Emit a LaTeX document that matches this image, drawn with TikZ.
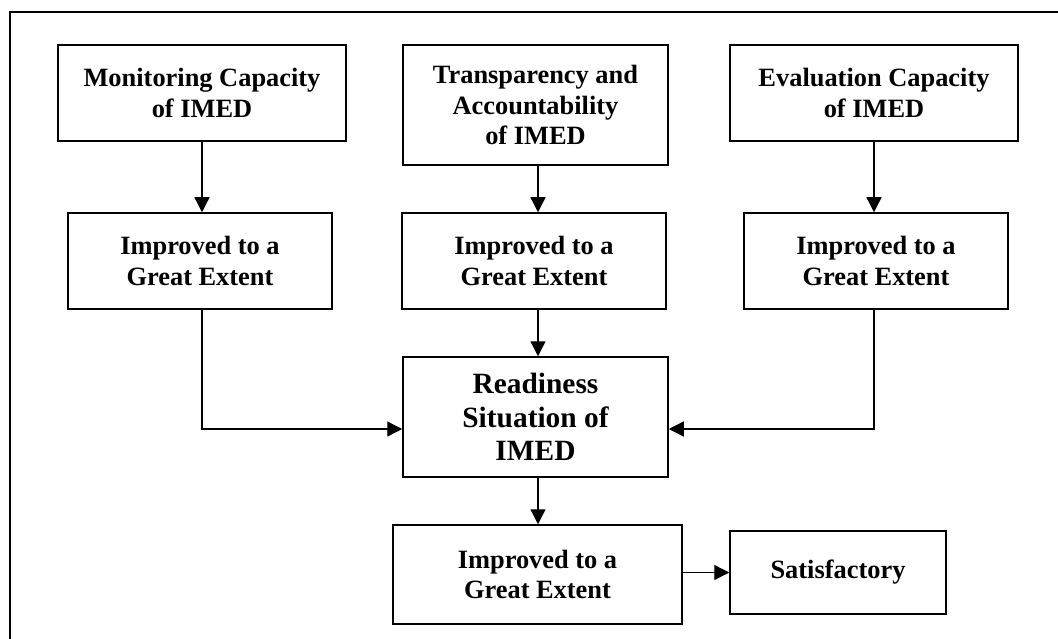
\documentclass[tikz,border=0pt]{standalone}
\usepackage{fontspec}
\setmainfont{Liberation Serif}
\usetikzlibrary{arrows.meta}
\begin{document}
\begin{tikzpicture}[x=1pt,y=-1pt,
  box/.style={draw, line width=1.5pt, rectangle, align=center, inner sep=0pt,
    font=\fontsize{26.4}{30.5}\selectfont\bfseries},
  bigbox/.style={box, font=\fontsize{29.4}{33.8}\selectfont\bfseries},
  arr/.style={line width=1.3pt, -{Triangle[length=15pt,width=15pt]}},
  frameline/.style={line width=1.4pt}]
\useasboundingbox (0,0) rectangle (1058,639);
\draw[frameline] (10,639) -- (10,12) -- (1058,12);

\node[box, minimum width=288pt, minimum height=96pt] (mon) at (202,93) {Monitoring Capacity\\of IMED};
\node[box, minimum width=265pt, minimum height=120pt] (tra) at (535.5,105) {Transparency and\\Accountability\\of IMED};
\node[box, minimum width=288pt, minimum height=96pt] (eva) at (874,93) {Evaluation Capacity\\of IMED};

\node[box, minimum width=264pt, minimum height=96pt] (imp1) at (200,261) {Improved to a\\Great Extent};
\node[box, minimum width=264pt, minimum height=96pt] (imp2) at (534,261) {Improved to a\\Great Extent};
\node[box, minimum width=264pt, minimum height=96pt] (imp3) at (876,261) {Improved to a\\Great Extent};

\node[bigbox, minimum width=265pt, minimum height=120pt] (rea) at (535.5,417) {Readiness\\Situation of\\IMED};
\node[box, minimum width=289pt, minimum height=99pt] (imp4) at (537.5,574.5) {Improved to a\\Great Extent};
\node[box, minimum width=216pt, minimum height=83pt] (sat) at (838,572.5) {Satisfactory};

\coordinate (cx) at (538,0);
\coordinate (lin) at ([yshift=-12pt]rea.west);
\coordinate (rin) at ([yshift=-12pt]rea.east);

\draw[arr] (mon.south) -- (mon.south |- imp1.north);
\draw[arr] (tra.south -| cx) -- (imp2.north -| cx);
\draw[arr] (eva.south) -- (eva.south |- imp3.north);
\draw[arr] (imp2.south -| cx) -- (rea.north -| cx);
\draw[arr] (mon.south |- imp1.south) |- (lin);
\draw[arr] (eva.south |- imp3.south) |- (rin);
\draw[arr] (rea.south -| cx) -- (imp4.north -| cx);
\draw[arr] (imp4.east |- sat.west) -- (sat.west);
\end{tikzpicture}
\end{document}
